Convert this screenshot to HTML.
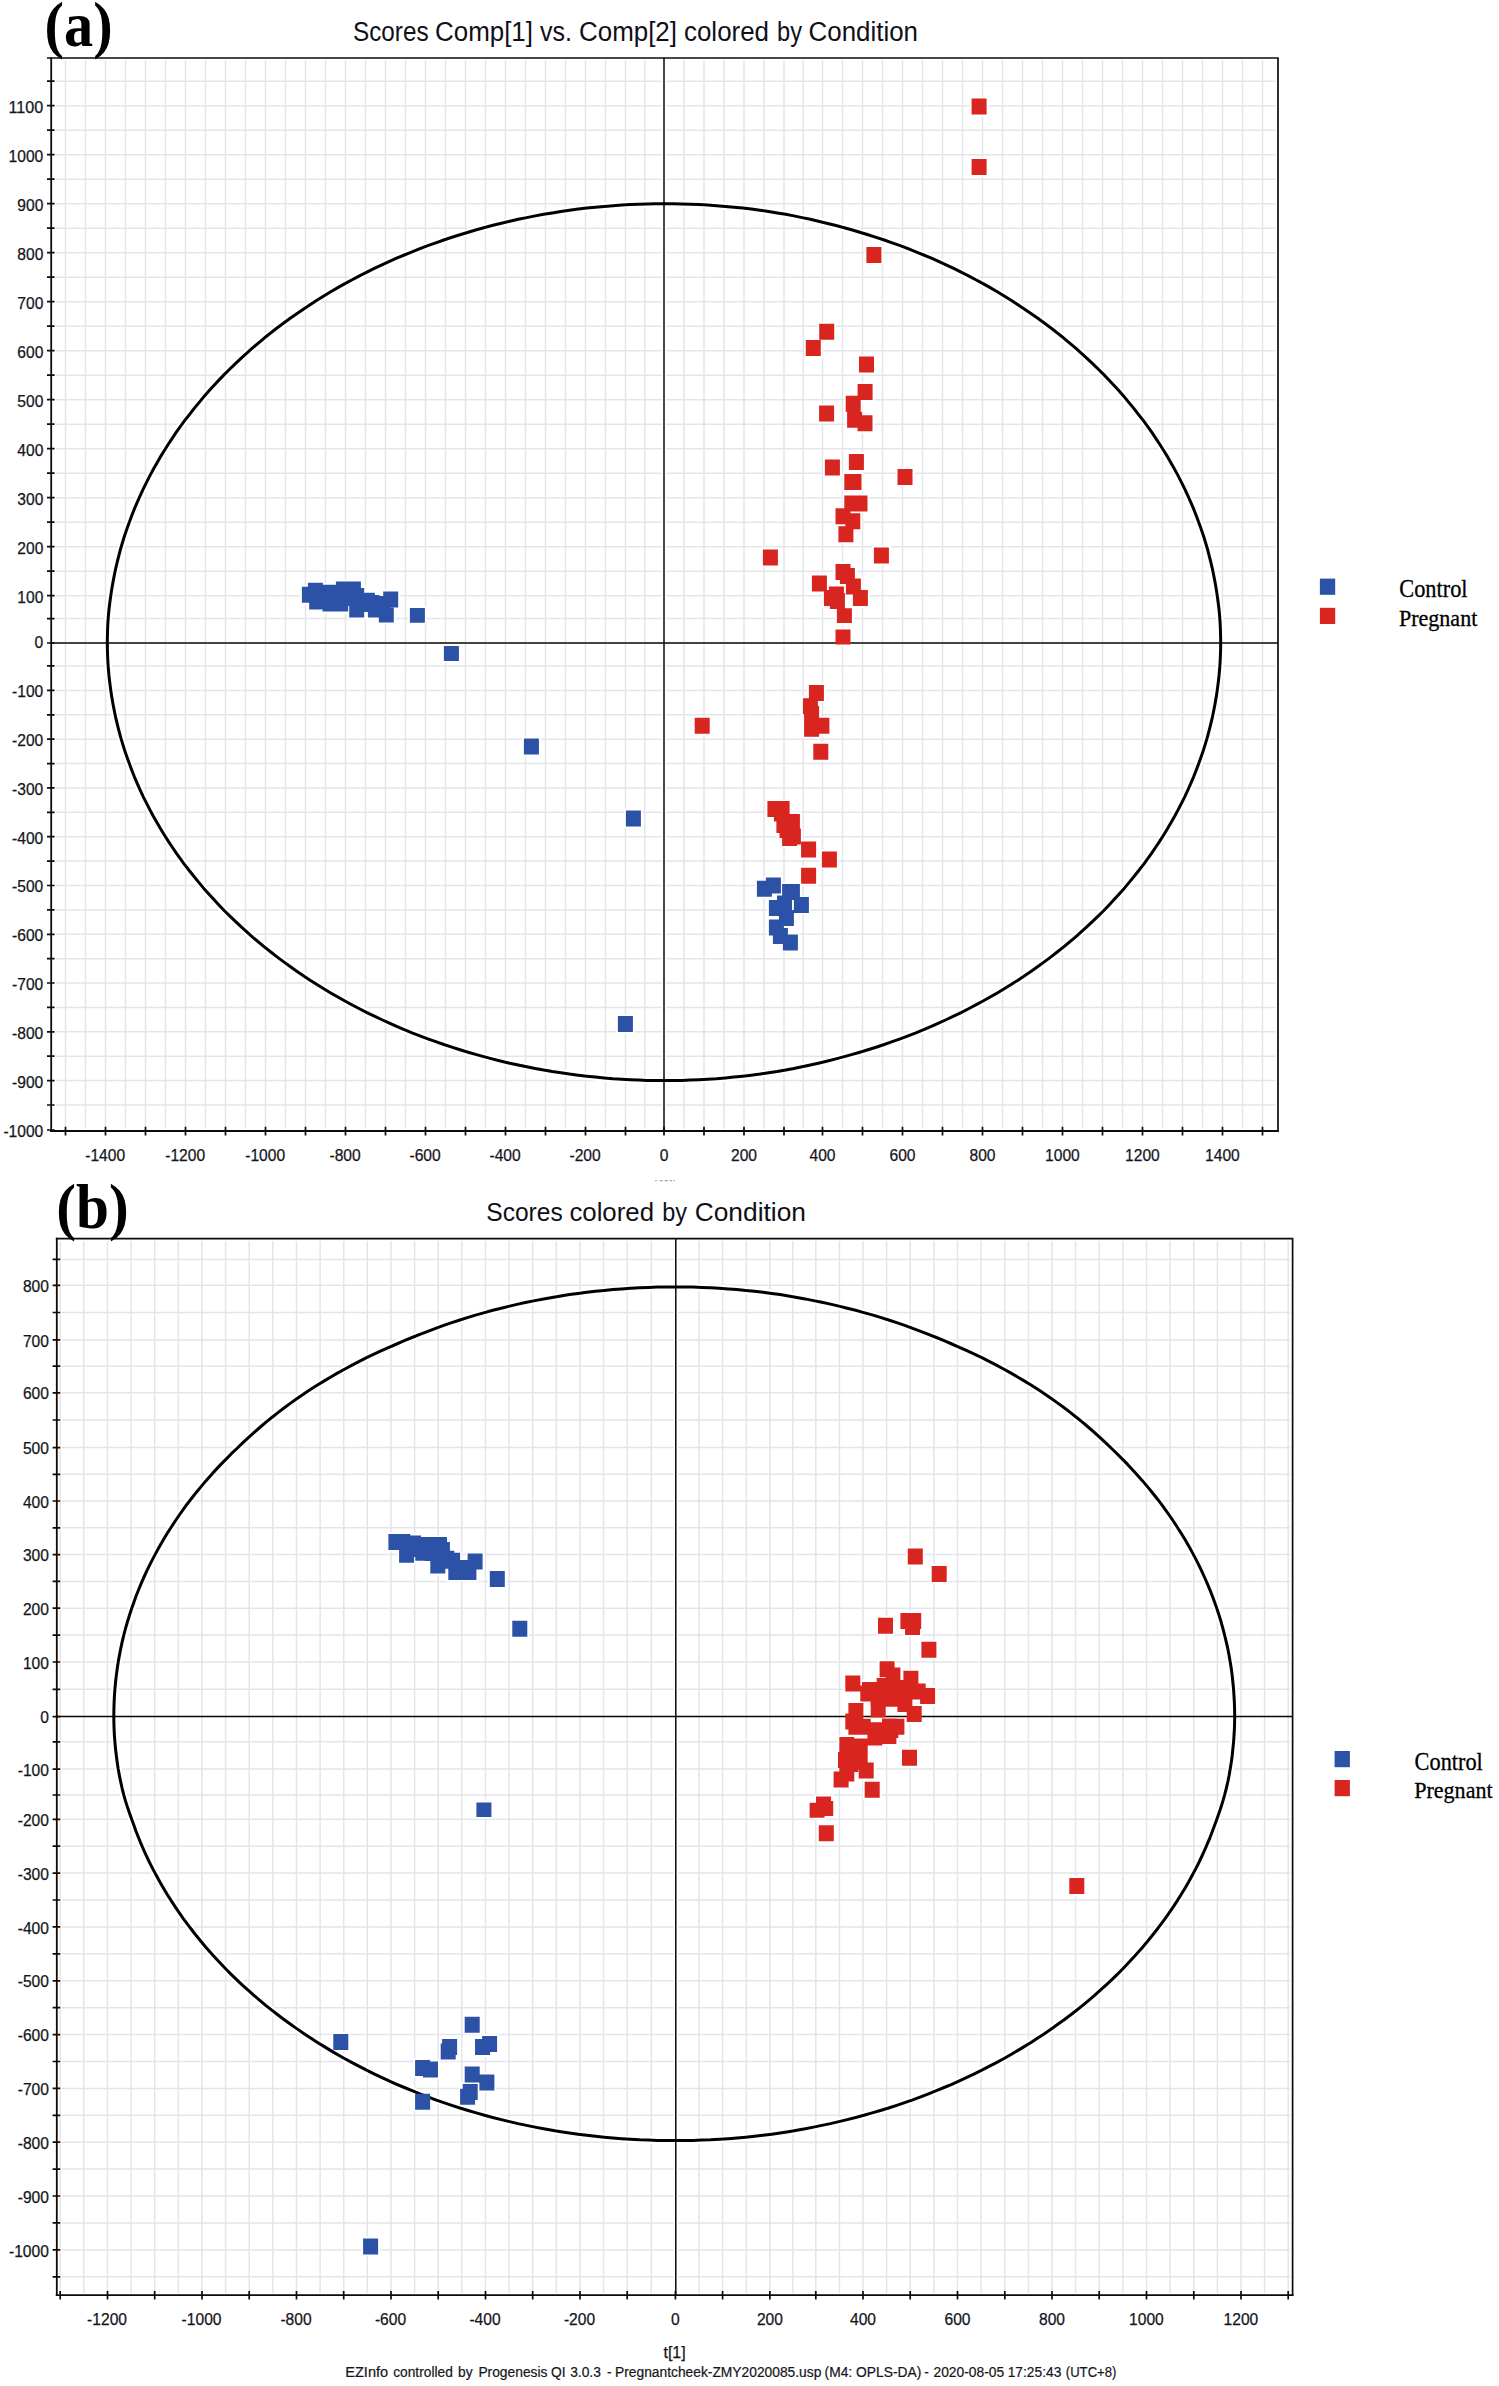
<!DOCTYPE html>
<html><head><meta charset="utf-8"><title>Scores plots</title>
<style>
html,body{margin:0;padding:0;background:#fff}
svg{display:block}
text{font-family:"Liberation Sans",sans-serif;fill:#15151c}
.t{font-size:16px;stroke:#15151c;stroke-width:.25px}
.ti{font-size:26px;fill:#101018}
.pl{font-family:"Liberation Serif",serif;font-weight:bold;font-size:63px;fill:#000}
.lg{font-family:"Liberation Serif",serif;font-size:25px;fill:#000;stroke:#000;stroke-width:.3px}
.ft{font-size:13.8px;stroke:#15151c;stroke-width:.2px}
</style></head><body>
<svg width="1499" height="2386" viewBox="0 0 1499 2386">
<rect width="1499" height="2386" fill="#fff"/>
<path d="M655.2 1180.6h1.6M659.5 1180.6h3.4M664.6 1180.6h3.2M669.6 1180.6h2.4M673.6 1180.6h1.4" stroke="#a9a9ad" stroke-width="1.2" fill="none"/>
<path d="M65.5 60.3V1128.7M85.5 60.3V1128.7M105.5 60.3V1128.7M125.5 60.3V1128.7M145.5 60.3V1128.7M165.5 60.3V1128.7M185.5 60.3V1128.7M205.5 60.3V1128.7M225.5 60.3V1128.7M245.5 60.3V1128.7M265.5 60.3V1128.7M285.5 60.3V1128.7M305.5 60.3V1128.7M325.5 60.3V1128.7M345.5 60.3V1128.7M365.5 60.3V1128.7M385.5 60.3V1128.7M405.5 60.3V1128.7M425.5 60.3V1128.7M445.5 60.3V1128.7M465.5 60.3V1128.7M485.5 60.3V1128.7M505.5 60.3V1128.7M525.5 60.3V1128.7M545.5 60.3V1128.7M565.5 60.3V1128.7M585.5 60.3V1128.7M605.5 60.3V1128.7M625.5 60.3V1128.7M644.8 60.3V1128.7M664.0 60.3V1128.7M684.0 60.3V1128.7M704.0 60.3V1128.7M724.0 60.3V1128.7M744.0 60.3V1128.7M764.0 60.3V1128.7M784.0 60.3V1128.7M803.2 60.3V1128.7M822.5 60.3V1128.7M842.5 60.3V1128.7M862.5 60.3V1128.7M882.5 60.3V1128.7M902.5 60.3V1128.7M922.5 60.3V1128.7M942.5 60.3V1128.7M962.5 60.3V1128.7M982.5 60.3V1128.7M1002.5 60.3V1128.7M1022.5 60.3V1128.7M1042.5 60.3V1128.7M1062.5 60.3V1128.7M1082.5 60.3V1128.7M1102.5 60.3V1128.7M1122.5 60.3V1128.7M1142.5 60.3V1128.7M1162.5 60.3V1128.7M1182.5 60.3V1128.7M1202.5 60.3V1128.7M1222.5 60.3V1128.7M1242.5 60.3V1128.7M1262.5 60.3V1128.7M56.1 1105.0H1275.7M56.1 1080.6H1275.7M56.1 1056.2H1275.7M56.1 1031.8H1275.7M56.1 1007.4H1275.7M56.1 983.0H1275.7M56.1 958.7H1275.7M56.1 934.3H1275.7M56.1 909.9H1275.7M56.1 885.5H1275.7M56.1 861.1H1275.7M56.1 836.7H1275.7M56.1 812.3H1275.7M56.1 787.9H1275.7M56.1 763.6H1275.7M56.1 739.2H1275.7M56.1 714.8H1275.7M56.1 690.4H1275.7M56.1 665.9H1275.7M56.1 643.0H1275.7M56.1 618.6H1275.7M56.1 595.7H1275.7M56.1 571.2H1275.7M56.1 546.7H1275.7M56.1 522.2H1275.7M56.1 497.7H1275.7M56.1 473.2H1275.7M56.1 448.7H1275.7M56.1 424.2H1275.7M56.1 399.7H1275.7M56.1 375.2H1275.7M56.1 350.7H1275.7M56.1 326.2H1275.7M56.1 301.7H1275.7M56.1 277.2H1275.7M56.1 252.7H1275.7M56.1 228.2H1275.7M56.1 203.7H1275.7M56.1 179.2H1275.7M56.1 154.7H1275.7M56.1 130.2H1275.7M56.1 105.7H1275.7M56.1 81.2H1275.7" stroke="#e3e5e9" stroke-width="1.5" fill="none"/>
<path d="M664.0 59.0V1130.0" stroke="#fff" stroke-width="4.6"/>
<path d="M1220.7 643.0L1220.6 636.1L1220.4 629.2L1220.1 622.3L1219.6 615.6L1219.0 609.2L1218.2 602.7L1217.3 596.3L1216.3 589.4L1215.1 582.6L1213.8 575.7L1212.4 568.9L1210.8 562.1L1209.1 555.3L1207.3 548.5L1205.3 541.8L1203.2 535.0L1200.9 528.3L1198.5 521.7L1196.0 515.0L1193.4 508.4L1190.6 501.9L1187.7 495.3L1184.7 488.8L1181.5 482.4L1178.2 475.9L1174.8 469.6L1171.2 463.2L1167.6 456.9L1163.8 450.7L1159.9 444.5L1155.8 438.3L1151.7 432.2L1147.4 426.2L1143.0 420.2L1138.4 414.3L1133.8 408.4L1129.0 402.6L1124.2 396.8L1119.2 391.1L1114.1 385.5L1108.9 379.9L1103.6 374.4L1098.1 369.0L1092.6 363.6L1087.0 358.3L1081.2 353.1L1075.4 347.9L1069.4 342.8L1063.4 337.8L1057.2 332.9L1051.0 328.0L1044.6 323.2L1038.2 318.5L1031.6 313.9L1025.0 309.4L1018.3 304.9L1011.5 300.5L1004.6 296.2L997.7 292.0L990.6 287.9L983.5 283.9L976.3 280.0L969.0 276.1L961.6 272.4L954.2 268.7L946.6 265.1L939.1 261.6L931.4 258.2L923.7 255.0L915.9 251.8L908.1 248.7L900.2 245.7L892.2 242.8L884.2 240.0L876.1 237.3L868.0 234.7L859.8 232.2L851.6 229.8L843.3 227.5L835.0 225.3L826.6 223.2L818.4 221.2L810.3 219.3L802.1 217.6L793.9 215.9L785.7 214.3L777.2 212.9L768.6 211.5L760.0 210.3L751.3 209.1L742.7 208.1L734.0 207.2L725.3 206.4L716.5 205.7L707.8 205.1L699.0 204.6L690.3 204.2L681.5 203.9L672.8 203.8L664.0 203.7L655.6 203.8L647.1 203.9L638.7 204.2L630.3 204.6L621.7 205.1L613.0 205.7L604.2 206.4L595.5 207.2L586.8 208.1L578.2 209.1L569.5 210.3L560.9 211.5L552.3 212.9L543.7 214.3L535.2 215.9L526.7 217.6L518.2 219.3L509.8 221.2L501.4 223.2L493.0 225.3L484.7 227.5L476.4 229.8L468.2 232.2L460.0 234.7L451.9 237.3L443.8 240.0L435.8 242.8L427.8 245.7L419.9 248.7L412.1 251.8L404.3 255.0L396.6 258.2L388.9 261.6L381.4 265.1L373.8 268.7L366.4 272.4L359.0 276.1L351.7 280.0L344.5 283.9L337.4 287.9L330.3 292.0L323.4 296.2L316.5 300.5L309.7 304.9L303.0 309.4L296.4 313.9L289.8 318.5L283.4 323.2L277.0 328.0L270.8 332.9L264.6 337.8L258.6 342.8L252.6 347.9L246.8 353.1L241.0 358.3L235.4 363.6L229.9 369.0L224.4 374.4L219.1 379.9L213.9 385.5L208.8 391.1L203.8 396.8L199.0 402.6L194.2 408.4L189.6 414.3L185.0 420.2L180.6 426.2L176.3 432.2L172.2 438.3L168.1 444.5L164.2 450.7L160.4 456.9L156.8 463.2L153.2 469.6L149.8 475.9L146.5 482.4L143.3 488.8L140.3 495.3L137.4 501.9L134.6 508.4L132.0 515.0L129.5 521.7L127.1 528.3L124.8 535.0L122.7 541.8L120.7 548.5L118.9 555.3L117.2 562.1L115.6 568.9L114.2 575.7L112.9 582.6L111.7 589.4L110.7 596.3L109.8 602.7L109.0 609.2L108.4 615.6L107.9 622.3L107.6 629.2L107.4 636.1L107.3 643.0L107.4 649.5L107.6 655.9L107.9 662.4L108.4 669.1L109.0 676.0L109.8 682.9L110.7 689.8L111.7 696.6L112.9 703.5L114.2 710.3L115.6 717.1L117.2 723.9L118.9 730.6L120.7 737.4L122.7 744.1L124.8 750.8L127.1 757.5L129.5 764.1L132.0 770.7L134.6 777.3L137.4 783.8L140.3 790.3L143.3 796.8L146.5 803.2L149.8 809.6L153.2 816.0L156.8 822.3L160.4 828.5L164.2 834.7L168.1 840.9L172.2 847.0L176.3 853.1L180.6 859.1L185.0 865.1L189.6 871.0L194.2 876.8L199.0 882.6L203.8 888.4L208.8 894.0L213.9 899.6L219.1 905.2L224.4 910.7L229.9 916.1L235.4 921.4L241.0 926.7L246.8 931.9L252.6 937.1L258.6 942.1L264.6 947.1L270.8 952.0L277.0 956.9L283.4 961.6L289.8 966.3L296.4 970.9L303.0 975.4L309.7 979.9L316.5 984.2L323.4 988.5L330.3 992.7L337.4 996.8L344.5 1000.8L351.7 1004.7L359.0 1008.5L366.4 1012.3L373.8 1015.9L381.4 1019.5L388.9 1022.9L396.6 1026.3L404.3 1029.6L412.1 1032.8L419.9 1035.8L427.8 1038.8L435.8 1041.7L443.8 1044.5L451.9 1047.2L460.0 1049.8L468.2 1052.3L476.4 1054.6L484.7 1056.9L493.0 1059.1L501.4 1061.2L509.8 1063.2L518.2 1065.0L526.7 1066.8L535.2 1068.5L543.7 1070.0L552.3 1071.5L560.9 1072.8L569.5 1074.1L578.2 1075.2L586.8 1076.2L595.5 1077.1L604.2 1077.9L613.0 1078.7L621.7 1079.2L630.3 1079.7L638.7 1080.1L647.1 1080.4L655.6 1080.5L664.0 1080.6L672.8 1080.5L681.5 1080.4L690.3 1080.1L699.0 1079.7L707.8 1079.2L716.5 1078.7L725.3 1077.9L734.0 1077.1L742.7 1076.2L751.3 1075.2L760.0 1074.1L768.6 1072.8L777.2 1071.5L785.7 1070.0L793.9 1068.5L802.1 1066.8L810.3 1065.0L818.4 1063.2L826.6 1061.2L835.0 1059.1L843.3 1056.9L851.6 1054.6L859.8 1052.3L868.0 1049.8L876.1 1047.2L884.2 1044.5L892.2 1041.7L900.2 1038.8L908.1 1035.8L915.9 1032.8L923.7 1029.6L931.4 1026.3L939.1 1022.9L946.6 1019.5L954.2 1015.9L961.6 1012.3L969.0 1008.5L976.3 1004.7L983.5 1000.8L990.6 996.8L997.7 992.7L1004.6 988.5L1011.5 984.2L1018.3 979.9L1025.0 975.4L1031.6 970.9L1038.2 966.3L1044.6 961.6L1051.0 956.9L1057.2 952.0L1063.4 947.1L1069.4 942.1L1075.4 937.1L1081.2 931.9L1087.0 926.7L1092.6 921.4L1098.1 916.1L1103.6 910.7L1108.9 905.2L1114.1 899.6L1119.2 894.0L1124.2 888.4L1129.0 882.6L1133.8 876.8L1138.4 871.0L1143.0 865.1L1147.4 859.1L1151.7 853.1L1155.8 847.0L1159.9 840.9L1163.8 834.7L1167.6 828.5L1171.2 822.3L1174.8 816.0L1178.2 809.6L1181.5 803.2L1184.7 796.8L1187.7 790.3L1190.6 783.8L1193.4 777.3L1196.0 770.7L1198.5 764.1L1200.9 757.5L1203.2 750.8L1205.3 744.1L1207.3 737.4L1209.1 730.6L1210.8 723.9L1212.4 717.1L1213.8 710.3L1215.1 703.5L1216.3 696.6L1217.3 689.8L1218.2 682.9L1219.0 676.0L1219.6 669.1L1220.1 662.4L1220.4 655.9L1220.6 649.5L1220.7 643.0Z" fill="none" stroke="#fff" stroke-width="7.2"/>
<path d="M300.1 584.9h18.6v19.6h-18.6zM306.1 580.9h18.6v19.6h-18.6zM307.4 591.6h18.6v19.6h-18.6zM320.7 593.6h18.6v19.6h-18.6zM331.4 593.6h18.6v19.6h-18.6zM334.1 579.6h18.6v19.6h-18.6zM344.1 579.6h18.6v19.6h-18.6zM347.4 586.2h18.6v19.6h-18.6zM347.4 600.8h18.6v18.400000000000002h-18.6zM358.1 590.9h18.6v19.6h-18.6zM366.1 600.8h18.6v18.400000000000002h-18.6zM377.0 605.9h18.6v18.400000000000002h-18.6zM381.4 589.6h18.6v19.6h-18.6zM370.1 594.2h18.6v19.6h-18.6zM318.1 582.9h18.6v19.6h-18.6zM324.7 582.9h18.6v19.6h-18.6zM312.7 586.2h18.6v19.6h-18.6zM336.7 588.2h18.6v19.6h-18.6zM354.7 594.2h18.6v19.6h-18.6zM362.7 593.2h18.6v19.6h-18.6zM373.7 596.8h18.6v18.400000000000002h-18.6zM408.1 606.2h18.6v18.400000000000002h-18.6zM442.1 644.3h18.6v18.400000000000002h-18.6zM522.1 736.6h18.6v19.6h-18.6zM624.1 808.6h18.6v19.6h-18.6zM616.1 1014.2h18.6v19.6h-18.6zM764.1 875.7h18.6v19.6h-18.6zM755.1 879.0h18.6v19.6h-18.6zM780.3 882.2h18.6v19.6h-18.6zM783.1 882.2h18.6v19.6h-18.6zM792.1 895.2h18.6v19.6h-18.6zM775.2 893.7h18.6v19.6h-18.6zM767.1 898.2h18.6v19.6h-18.6zM777.1 908.2h18.6v19.6h-18.6zM767.1 917.7h18.6v19.6h-18.6zM771.1 926.2h18.6v19.6h-18.6zM781.1 932.7h18.6v19.6h-18.6zM969.8 96.7h18.6v19.6h-18.6zM969.8 157.2h18.6v19.6h-18.6zM864.6 245.2h18.6v19.6h-18.6zM817.4 322.0h18.6v19.6h-18.6zM804.0 338.2h18.6v19.6h-18.6zM857.2 354.7h18.6v19.6h-18.6zM855.8 382.3h18.6v19.6h-18.6zM843.9 393.9h18.6v19.6h-18.6zM817.3 403.7h18.6v19.6h-18.6zM845.3 409.9h18.6v19.6h-18.6zM855.7 413.5h18.6v19.6h-18.6zM847.1 452.2h18.6v19.6h-18.6zM823.1 457.6h18.6v19.6h-18.6zM895.7 467.2h18.6v19.6h-18.6zM842.5 472.2h18.6v19.6h-18.6zM844.7 472.2h18.6v19.6h-18.6zM842.5 493.6h18.6v19.6h-18.6zM850.7 493.6h18.6v19.6h-18.6zM833.7 506.4h18.6v19.6h-18.6zM843.5 511.4h18.6v19.6h-18.6zM836.6 524.4h18.6v19.6h-18.6zM761.1 547.6h18.6v19.6h-18.6zM872.1 545.8h18.6v19.6h-18.6zM833.7 562.2h18.6v19.6h-18.6zM838.1 566.2h18.6v19.6h-18.6zM810.1 573.6h18.6v19.6h-18.6zM844.1 576.8h18.6v19.6h-18.6zM827.1 584.8h18.6v19.6h-18.6zM822.1 588.2h18.6v19.6h-18.6zM851.1 588.2h18.6v19.6h-18.6zM828.1 591.2h18.6v19.6h-18.6zM835.1 606.4h18.6v18.400000000000002h-18.6zM833.7 627.8h18.6v18.400000000000002h-18.6zM807.1 683.2h18.6v19.6h-18.6zM801.1 696.4h18.6v19.6h-18.6zM802.3 704.2h18.6v19.6h-18.6zM802.3 719.0h18.6v19.6h-18.6zM812.6 716.0h18.6v19.6h-18.6zM811.5 741.9h18.6v19.6h-18.6zM692.9 715.9h18.6v19.6h-18.6zM765.6 799.2h18.6v19.6h-18.6zM772.8 799.2h18.6v19.6h-18.6zM772.1 803.7h18.6v19.6h-18.6zM774.6 815.2h18.6v19.6h-18.6zM783.1 812.2h18.6v19.6h-18.6zM780.3 828.2h18.6v19.6h-18.6zM784.1 826.7h18.6v19.6h-18.6zM777.7 820.2h18.6v19.6h-18.6zM799.3 839.7h18.6v19.6h-18.6zM820.1 849.6h18.6v19.6h-18.6zM799.3 865.9h18.6v19.6h-18.6z" fill="#fff"/>
<path d="M51.2 643.0H1278.0M664.0 58.0V1131.0" stroke="#100a07" stroke-width="1.5" fill="none"/>
<path d="M1220.7 643.0L1220.6 636.1L1220.4 629.2L1220.1 622.3L1219.6 615.6L1219.0 609.2L1218.2 602.7L1217.3 596.3L1216.3 589.4L1215.1 582.6L1213.8 575.7L1212.4 568.9L1210.8 562.1L1209.1 555.3L1207.3 548.5L1205.3 541.8L1203.2 535.0L1200.9 528.3L1198.5 521.7L1196.0 515.0L1193.4 508.4L1190.6 501.9L1187.7 495.3L1184.7 488.8L1181.5 482.4L1178.2 475.9L1174.8 469.6L1171.2 463.2L1167.6 456.9L1163.8 450.7L1159.9 444.5L1155.8 438.3L1151.7 432.2L1147.4 426.2L1143.0 420.2L1138.4 414.3L1133.8 408.4L1129.0 402.6L1124.2 396.8L1119.2 391.1L1114.1 385.5L1108.9 379.9L1103.6 374.4L1098.1 369.0L1092.6 363.6L1087.0 358.3L1081.2 353.1L1075.4 347.9L1069.4 342.8L1063.4 337.8L1057.2 332.9L1051.0 328.0L1044.6 323.2L1038.2 318.5L1031.6 313.9L1025.0 309.4L1018.3 304.9L1011.5 300.5L1004.6 296.2L997.7 292.0L990.6 287.9L983.5 283.9L976.3 280.0L969.0 276.1L961.6 272.4L954.2 268.7L946.6 265.1L939.1 261.6L931.4 258.2L923.7 255.0L915.9 251.8L908.1 248.7L900.2 245.7L892.2 242.8L884.2 240.0L876.1 237.3L868.0 234.7L859.8 232.2L851.6 229.8L843.3 227.5L835.0 225.3L826.6 223.2L818.4 221.2L810.3 219.3L802.1 217.6L793.9 215.9L785.7 214.3L777.2 212.9L768.6 211.5L760.0 210.3L751.3 209.1L742.7 208.1L734.0 207.2L725.3 206.4L716.5 205.7L707.8 205.1L699.0 204.6L690.3 204.2L681.5 203.9L672.8 203.8L664.0 203.7L655.6 203.8L647.1 203.9L638.7 204.2L630.3 204.6L621.7 205.1L613.0 205.7L604.2 206.4L595.5 207.2L586.8 208.1L578.2 209.1L569.5 210.3L560.9 211.5L552.3 212.9L543.7 214.3L535.2 215.9L526.7 217.6L518.2 219.3L509.8 221.2L501.4 223.2L493.0 225.3L484.7 227.5L476.4 229.8L468.2 232.2L460.0 234.7L451.9 237.3L443.8 240.0L435.8 242.8L427.8 245.7L419.9 248.7L412.1 251.8L404.3 255.0L396.6 258.2L388.9 261.6L381.4 265.1L373.8 268.7L366.4 272.4L359.0 276.1L351.7 280.0L344.5 283.9L337.4 287.9L330.3 292.0L323.4 296.2L316.5 300.5L309.7 304.9L303.0 309.4L296.4 313.9L289.8 318.5L283.4 323.2L277.0 328.0L270.8 332.9L264.6 337.8L258.6 342.8L252.6 347.9L246.8 353.1L241.0 358.3L235.4 363.6L229.9 369.0L224.4 374.4L219.1 379.9L213.9 385.5L208.8 391.1L203.8 396.8L199.0 402.6L194.2 408.4L189.6 414.3L185.0 420.2L180.6 426.2L176.3 432.2L172.2 438.3L168.1 444.5L164.2 450.7L160.4 456.9L156.8 463.2L153.2 469.6L149.8 475.9L146.5 482.4L143.3 488.8L140.3 495.3L137.4 501.9L134.6 508.4L132.0 515.0L129.5 521.7L127.1 528.3L124.8 535.0L122.7 541.8L120.7 548.5L118.9 555.3L117.2 562.1L115.6 568.9L114.2 575.7L112.9 582.6L111.7 589.4L110.7 596.3L109.8 602.7L109.0 609.2L108.4 615.6L107.9 622.3L107.6 629.2L107.4 636.1L107.3 643.0L107.4 649.5L107.6 655.9L107.9 662.4L108.4 669.1L109.0 676.0L109.8 682.9L110.7 689.8L111.7 696.6L112.9 703.5L114.2 710.3L115.6 717.1L117.2 723.9L118.9 730.6L120.7 737.4L122.7 744.1L124.8 750.8L127.1 757.5L129.5 764.1L132.0 770.7L134.6 777.3L137.4 783.8L140.3 790.3L143.3 796.8L146.5 803.2L149.8 809.6L153.2 816.0L156.8 822.3L160.4 828.5L164.2 834.7L168.1 840.9L172.2 847.0L176.3 853.1L180.6 859.1L185.0 865.1L189.6 871.0L194.2 876.8L199.0 882.6L203.8 888.4L208.8 894.0L213.9 899.6L219.1 905.2L224.4 910.7L229.9 916.1L235.4 921.4L241.0 926.7L246.8 931.9L252.6 937.1L258.6 942.1L264.6 947.1L270.8 952.0L277.0 956.9L283.4 961.6L289.8 966.3L296.4 970.9L303.0 975.4L309.7 979.9L316.5 984.2L323.4 988.5L330.3 992.7L337.4 996.8L344.5 1000.8L351.7 1004.7L359.0 1008.5L366.4 1012.3L373.8 1015.9L381.4 1019.5L388.9 1022.9L396.6 1026.3L404.3 1029.6L412.1 1032.8L419.9 1035.8L427.8 1038.8L435.8 1041.7L443.8 1044.5L451.9 1047.2L460.0 1049.8L468.2 1052.3L476.4 1054.6L484.7 1056.9L493.0 1059.1L501.4 1061.2L509.8 1063.2L518.2 1065.0L526.7 1066.8L535.2 1068.5L543.7 1070.0L552.3 1071.5L560.9 1072.8L569.5 1074.1L578.2 1075.2L586.8 1076.2L595.5 1077.1L604.2 1077.9L613.0 1078.7L621.7 1079.2L630.3 1079.7L638.7 1080.1L647.1 1080.4L655.6 1080.5L664.0 1080.6L672.8 1080.5L681.5 1080.4L690.3 1080.1L699.0 1079.7L707.8 1079.2L716.5 1078.7L725.3 1077.9L734.0 1077.1L742.7 1076.2L751.3 1075.2L760.0 1074.1L768.6 1072.8L777.2 1071.5L785.7 1070.0L793.9 1068.5L802.1 1066.8L810.3 1065.0L818.4 1063.2L826.6 1061.2L835.0 1059.1L843.3 1056.9L851.6 1054.6L859.8 1052.3L868.0 1049.8L876.1 1047.2L884.2 1044.5L892.2 1041.7L900.2 1038.8L908.1 1035.8L915.9 1032.8L923.7 1029.6L931.4 1026.3L939.1 1022.9L946.6 1019.5L954.2 1015.9L961.6 1012.3L969.0 1008.5L976.3 1004.7L983.5 1000.8L990.6 996.8L997.7 992.7L1004.6 988.5L1011.5 984.2L1018.3 979.9L1025.0 975.4L1031.6 970.9L1038.2 966.3L1044.6 961.6L1051.0 956.9L1057.2 952.0L1063.4 947.1L1069.4 942.1L1075.4 937.1L1081.2 931.9L1087.0 926.7L1092.6 921.4L1098.1 916.1L1103.6 910.7L1108.9 905.2L1114.1 899.6L1119.2 894.0L1124.2 888.4L1129.0 882.6L1133.8 876.8L1138.4 871.0L1143.0 865.1L1147.4 859.1L1151.7 853.1L1155.8 847.0L1159.9 840.9L1163.8 834.7L1167.6 828.5L1171.2 822.3L1174.8 816.0L1178.2 809.6L1181.5 803.2L1184.7 796.8L1187.7 790.3L1190.6 783.8L1193.4 777.3L1196.0 770.7L1198.5 764.1L1200.9 757.5L1203.2 750.8L1205.3 744.1L1207.3 737.4L1209.1 730.6L1210.8 723.9L1212.4 717.1L1213.8 710.3L1215.1 703.5L1216.3 696.6L1217.3 689.8L1218.2 682.9L1219.0 676.0L1219.6 669.1L1220.1 662.4L1220.4 655.9L1220.6 649.5L1220.7 643.0Z" fill="none" stroke="#000" stroke-width="3" stroke-linejoin="round"/>
<path d="M301.9 586.7h15v16h-15zM307.9 582.7h15v16h-15zM309.2 593.4h15v16h-15zM322.5 595.4h15v16h-15zM333.2 595.4h15v16h-15zM335.9 581.4h15v16h-15zM345.9 581.4h15v16h-15zM349.2 588.0h15v16h-15zM349.2 602.6h15v14.8h-15zM359.9 592.7h15v16h-15zM367.9 602.6h15v14.8h-15zM378.8 607.7h15v14.8h-15zM383.2 591.4h15v16h-15zM371.9 596.0h15v16h-15zM319.9 584.7h15v16h-15zM326.5 584.7h15v16h-15zM314.5 588.0h15v16h-15zM338.5 590.0h15v16h-15zM356.5 596.0h15v16h-15zM364.5 595.0h15v16h-15zM375.5 598.6h15v14.8h-15zM409.9 608.0h15v14.8h-15zM443.9 646.1h15v14.8h-15zM523.9 738.4h15v16h-15zM625.9 810.4h15v16h-15zM617.9 1016.0h15v16h-15zM765.9 877.5h15v16h-15zM756.9 880.8h15v16h-15zM782.1 884.0h15v16h-15zM784.9 884.0h15v16h-15zM793.9 897.0h15v16h-15zM777.0 895.5h15v16h-15zM768.9 900.0h15v16h-15zM778.9 910.0h15v16h-15zM768.9 919.5h15v16h-15zM772.9 928.0h15v16h-15zM782.9 934.5h15v16h-15z" fill="#2b52a6"/>
<path d="M971.6 98.5h15v16h-15zM971.6 159.0h15v16h-15zM866.4 247.0h15v16h-15zM819.2 323.8h15v16h-15zM805.8 340.0h15v16h-15zM859.0 356.5h15v16h-15zM857.6 384.1h15v16h-15zM845.7 395.7h15v16h-15zM819.1 405.5h15v16h-15zM847.1 411.7h15v16h-15zM857.5 415.3h15v16h-15zM848.9 454.0h15v16h-15zM824.9 459.4h15v16h-15zM897.5 469.0h15v16h-15zM844.3 474.0h15v16h-15zM846.5 474.0h15v16h-15zM844.3 495.4h15v16h-15zM852.5 495.4h15v16h-15zM835.5 508.2h15v16h-15zM845.3 513.2h15v16h-15zM838.4 526.2h15v16h-15zM762.9 549.4h15v16h-15zM873.9 547.6h15v16h-15zM835.5 564.0h15v16h-15zM839.9 568.0h15v16h-15zM811.9 575.4h15v16h-15zM845.9 578.6h15v16h-15zM828.9 586.6h15v16h-15zM823.9 590.0h15v16h-15zM852.9 590.0h15v16h-15zM829.9 593.0h15v16h-15zM836.9 608.2h15v14.8h-15zM835.5 629.6h15v14.8h-15zM808.9 685.0h15v16h-15zM802.9 698.2h15v16h-15zM804.1 706.0h15v16h-15zM804.1 720.8h15v16h-15zM814.4 717.8h15v16h-15zM813.3 743.7h15v16h-15zM694.7 717.7h15v16h-15zM767.4 801.0h15v16h-15zM774.6 801.0h15v16h-15zM773.9 805.5h15v16h-15zM776.4 817.0h15v16h-15zM784.9 814.0h15v16h-15zM782.1 830.0h15v16h-15zM785.9 828.5h15v16h-15zM779.5 822.0h15v16h-15zM801.1 841.5h15v16h-15zM821.9 851.4h15v16h-15zM801.1 867.7h15v16h-15z" fill="#d92520"/>
<path d="M47.0 58.0H1278.0V1131.8" stroke="#100a07" stroke-width="1.7" fill="none"/>
<path d="M51.2 57.2V1131.9" stroke="#100a07" stroke-width="1.8" fill="none"/>
<path d="M50.2 1131.0H1278.8" stroke="#100a07" stroke-width="1.8" fill="none"/>
<path d="M47.0 1130.0h7.6M47.0 1105.0h7.6M47.0 1080.6h7.6M47.0 1056.2h7.6M47.0 1031.8h7.6M47.0 1007.4h7.6M47.0 983.0h7.6M47.0 958.7h7.6M47.0 934.3h7.6M47.0 909.9h7.6M47.0 885.5h7.6M47.0 861.1h7.6M47.0 836.7h7.6M47.0 812.3h7.6M47.0 787.9h7.6M47.0 763.6h7.6M47.0 739.2h7.6M47.0 714.8h7.6M47.0 690.4h7.6M47.0 665.9h7.6M47.0 643.0h7.6M47.0 618.6h7.6M47.0 595.7h7.6M47.0 571.2h7.6M47.0 546.7h7.6M47.0 522.2h7.6M47.0 497.7h7.6M47.0 473.2h7.6M47.0 448.7h7.6M47.0 424.2h7.6M47.0 399.7h7.6M47.0 375.2h7.6M47.0 350.7h7.6M47.0 326.2h7.6M47.0 301.7h7.6M47.0 277.2h7.6M47.0 252.7h7.6M47.0 228.2h7.6M47.0 203.7h7.6M47.0 179.2h7.6M47.0 154.7h7.6M47.0 130.2h7.6M47.0 105.7h7.6M47.0 81.2h7.6M65.5 1126.8v8.6M105.5 1126.8v8.6M145.5 1126.8v8.6M185.5 1126.8v8.6M225.5 1126.8v8.6M265.5 1126.8v8.6M305.5 1126.8v8.6M345.5 1126.8v8.6M385.5 1126.8v8.6M425.5 1126.8v8.6M465.5 1126.8v8.6M505.5 1126.8v8.6M545.5 1126.8v8.6M585.5 1126.8v8.6M625.5 1126.8v8.6M664.0 1126.8v8.6M704.0 1126.8v8.6M744.0 1126.8v8.6M784.0 1126.8v8.6M822.5 1126.8v8.6M862.5 1126.8v8.6M902.5 1126.8v8.6M942.5 1126.8v8.6M982.5 1126.8v8.6M1022.5 1126.8v8.6M1062.5 1126.8v8.6M1102.5 1126.8v8.6M1142.5 1126.8v8.6M1182.5 1126.8v8.6M1222.5 1126.8v8.6M1262.5 1126.8v8.6" stroke="#100a07" stroke-width="1.7" fill="none"/>
<text x="3.4" y="1136.9" class="t" textLength="39.9" lengthAdjust="spacingAndGlyphs">-1000</text>
<text x="12.1" y="1087.5" class="t" textLength="31.2" lengthAdjust="spacingAndGlyphs">-900</text>
<text x="12.1" y="1038.7" class="t" textLength="31.2" lengthAdjust="spacingAndGlyphs">-800</text>
<text x="12.1" y="989.9" class="t" textLength="31.2" lengthAdjust="spacingAndGlyphs">-700</text>
<text x="12.1" y="941.2" class="t" textLength="31.2" lengthAdjust="spacingAndGlyphs">-600</text>
<text x="12.1" y="892.4" class="t" textLength="31.2" lengthAdjust="spacingAndGlyphs">-500</text>
<text x="12.1" y="843.6" class="t" textLength="31.2" lengthAdjust="spacingAndGlyphs">-400</text>
<text x="12.1" y="794.8" class="t" textLength="31.2" lengthAdjust="spacingAndGlyphs">-300</text>
<text x="12.1" y="746.1" class="t" textLength="31.2" lengthAdjust="spacingAndGlyphs">-200</text>
<text x="12.1" y="697.3" class="t" textLength="31.2" lengthAdjust="spacingAndGlyphs">-100</text>
<text x="34.6" y="648.3" class="t" textLength="8.7" lengthAdjust="spacingAndGlyphs">0</text>
<text x="17.3" y="602.6" class="t" textLength="26.0" lengthAdjust="spacingAndGlyphs">100</text>
<text x="17.3" y="553.6" class="t" textLength="26.0" lengthAdjust="spacingAndGlyphs">200</text>
<text x="17.3" y="504.6" class="t" textLength="26.0" lengthAdjust="spacingAndGlyphs">300</text>
<text x="17.3" y="455.6" class="t" textLength="26.0" lengthAdjust="spacingAndGlyphs">400</text>
<text x="17.3" y="406.6" class="t" textLength="26.0" lengthAdjust="spacingAndGlyphs">500</text>
<text x="17.3" y="357.6" class="t" textLength="26.0" lengthAdjust="spacingAndGlyphs">600</text>
<text x="17.3" y="308.6" class="t" textLength="26.0" lengthAdjust="spacingAndGlyphs">700</text>
<text x="17.3" y="259.6" class="t" textLength="26.0" lengthAdjust="spacingAndGlyphs">800</text>
<text x="17.3" y="210.6" class="t" textLength="26.0" lengthAdjust="spacingAndGlyphs">900</text>
<text x="8.6" y="161.6" class="t" textLength="34.7" lengthAdjust="spacingAndGlyphs">1000</text>
<text x="8.6" y="112.6" class="t" textLength="34.7" lengthAdjust="spacingAndGlyphs">1100</text>
<text x="85.2" y="1161.0" class="t" textLength="39.9" lengthAdjust="spacingAndGlyphs">-1400</text>
<text x="165.2" y="1161.0" class="t" textLength="39.9" lengthAdjust="spacingAndGlyphs">-1200</text>
<text x="245.2" y="1161.0" class="t" textLength="39.9" lengthAdjust="spacingAndGlyphs">-1000</text>
<text x="329.5" y="1161.0" class="t" textLength="31.2" lengthAdjust="spacingAndGlyphs">-800</text>
<text x="409.5" y="1161.0" class="t" textLength="31.2" lengthAdjust="spacingAndGlyphs">-600</text>
<text x="489.5" y="1161.0" class="t" textLength="31.2" lengthAdjust="spacingAndGlyphs">-400</text>
<text x="569.5" y="1161.0" class="t" textLength="31.2" lengthAdjust="spacingAndGlyphs">-200</text>
<text x="659.7" y="1161.0" class="t" textLength="8.7" lengthAdjust="spacingAndGlyphs">0</text>
<text x="731.0" y="1161.0" class="t" textLength="26.0" lengthAdjust="spacingAndGlyphs">200</text>
<text x="809.5" y="1161.0" class="t" textLength="26.0" lengthAdjust="spacingAndGlyphs">400</text>
<text x="889.5" y="1161.0" class="t" textLength="26.0" lengthAdjust="spacingAndGlyphs">600</text>
<text x="969.5" y="1161.0" class="t" textLength="26.0" lengthAdjust="spacingAndGlyphs">800</text>
<text x="1045.1" y="1161.0" class="t" textLength="34.7" lengthAdjust="spacingAndGlyphs">1000</text>
<text x="1125.1" y="1161.0" class="t" textLength="34.7" lengthAdjust="spacingAndGlyphs">1200</text>
<text x="1205.1" y="1161.0" class="t" textLength="34.7" lengthAdjust="spacingAndGlyphs">1400</text>
<path d="M60.2 1240.9V2292.9M83.8 1240.9V2292.9M107.5 1240.9V2292.9M131.1 1240.9V2292.9M154.7 1240.9V2292.9M178.3 1240.9V2292.9M202.0 1240.9V2292.9M225.6 1240.9V2292.9M249.2 1240.9V2292.9M272.8 1240.9V2292.9M296.5 1240.9V2292.9M320.1 1240.9V2292.9M343.7 1240.9V2292.9M367.3 1240.9V2292.9M391.0 1240.9V2292.9M414.6 1240.9V2292.9M438.2 1240.9V2292.9M461.8 1240.9V2292.9M485.5 1240.9V2292.9M509.1 1240.9V2292.9M532.7 1240.9V2292.9M556.3 1240.9V2292.9M580.0 1240.9V2292.9M603.6 1240.9V2292.9M627.2 1240.9V2292.9M651.3 1240.9V2292.9M675.4 1240.9V2292.9M699.0 1240.9V2292.9M722.6 1240.9V2292.9M746.3 1240.9V2292.9M769.9 1240.9V2292.9M792.8 1240.9V2292.9M815.8 1240.9V2292.9M839.4 1240.9V2292.9M863.0 1240.9V2292.9M886.6 1240.9V2292.9M910.2 1240.9V2292.9M933.9 1240.9V2292.9M957.5 1240.9V2292.9M981.1 1240.9V2292.9M1004.8 1240.9V2292.9M1028.4 1240.9V2292.9M1052.0 1240.9V2292.9M1075.6 1240.9V2292.9M1099.2 1240.9V2292.9M1122.9 1240.9V2292.9M1146.5 1240.9V2292.9M1170.1 1240.9V2292.9M1193.8 1240.9V2292.9M1217.4 1240.9V2292.9M1241.0 1240.9V2292.9M1264.6 1240.9V2292.9M1288.2 1240.9V2292.9M61.7 2276.8H1290.3M61.7 2249.9H1290.3M61.7 2222.9H1290.3M61.7 2196.0H1290.3M61.7 2169.1H1290.3M61.7 2142.2H1290.3M61.7 2115.3H1290.3M61.7 2088.4H1290.3M61.7 2061.5H1290.3M61.7 2034.6H1290.3M61.7 2007.7H1290.3M61.7 1980.8H1290.3M61.7 1953.8H1290.3M61.7 1926.9H1290.3M61.7 1900.0H1290.3M61.7 1873.1H1290.3M61.7 1846.2H1290.3M61.7 1819.3H1290.3M61.7 1795.0H1290.3M61.7 1769.1H1290.3M61.7 1741.8H1290.3M61.7 1716.6H1290.3M61.7 1689.3H1290.3M61.7 1662.0H1290.3M61.7 1635.1H1290.3M61.7 1608.2H1290.3M61.7 1581.4H1290.3M61.7 1554.6H1290.3M61.7 1527.8H1290.3M61.7 1501.0H1290.3M61.7 1474.3H1290.3M61.7 1447.6H1290.3M61.7 1420.0H1290.3M61.7 1392.8H1290.3M61.7 1366.2H1290.3M61.7 1339.9H1290.3M61.7 1312.5H1290.3M61.7 1285.3H1290.3M61.7 1259.4H1290.3" stroke="#e3e5e9" stroke-width="1.5" fill="none"/>
<path d="M675.8 1239.6V2294.2" stroke="#fff" stroke-width="4.6"/>
<path d="M1234.7 1716.6L1234.6 1709.8L1234.4 1702.9L1234.0 1696.1L1233.6 1689.3L1232.9 1682.5L1232.2 1675.6L1231.3 1668.8L1230.2 1662.1L1229.1 1655.4L1227.8 1648.7L1226.3 1642.1L1224.7 1635.5L1223.0 1628.8L1221.2 1622.3L1219.2 1615.7L1217.1 1609.2L1214.8 1602.7L1212.4 1596.2L1209.9 1589.8L1207.2 1583.4L1204.4 1577.0L1201.5 1570.7L1198.5 1564.4L1195.3 1558.1L1192.0 1551.9L1188.6 1545.7L1185.0 1539.6L1181.3 1533.5L1177.5 1527.5L1173.6 1521.5L1169.5 1515.5L1165.3 1509.6L1161.0 1503.7L1156.6 1498.0L1152.0 1492.2L1147.4 1486.6L1142.6 1480.9L1137.7 1475.4L1132.7 1469.9L1127.6 1464.4L1122.4 1459.1L1117.0 1453.7L1111.6 1448.5L1106.0 1443.2L1100.3 1437.9L1094.6 1432.7L1088.7 1427.5L1082.7 1422.4L1076.6 1417.5L1070.5 1412.6L1064.2 1407.8L1057.8 1403.1L1051.3 1398.5L1044.8 1394.0L1038.1 1389.6L1031.4 1385.3L1024.6 1381.1L1017.6 1377.0L1010.6 1372.9L1003.6 1369.0L996.4 1365.1L989.1 1361.4L981.8 1357.7L974.4 1354.1L966.9 1350.7L959.4 1347.3L951.8 1344.0L944.1 1340.7L936.4 1337.5L928.5 1334.3L920.7 1331.3L912.7 1328.3L904.7 1325.4L896.7 1322.7L888.6 1320.0L880.4 1317.4L872.2 1314.9L863.9 1312.6L855.6 1310.3L847.3 1308.2L838.9 1306.1L830.4 1304.1L821.9 1302.3L813.5 1300.6L805.2 1298.9L796.9 1297.4L788.5 1295.9L780.1 1294.6L771.7 1293.4L763.1 1292.3L754.4 1291.3L745.7 1290.4L736.9 1289.6L728.2 1288.9L719.4 1288.3L710.6 1287.8L701.8 1287.4L693.0 1287.1L684.2 1287.0L675.4 1286.9L666.4 1287.0L657.4 1287.1L648.5 1287.4L639.5 1287.8L630.5 1288.3L621.7 1288.9L612.9 1289.6L604.2 1290.4L595.5 1291.3L586.7 1292.3L578.1 1293.4L569.4 1294.6L560.8 1295.9L552.1 1297.4L543.6 1298.9L535.0 1300.6L526.5 1302.3L518.0 1304.1L509.6 1306.1L501.2 1308.2L492.8 1310.3L484.5 1312.6L476.3 1314.9L468.1 1317.4L459.9 1320.0L451.8 1322.7L443.7 1325.4L435.7 1328.3L427.8 1331.3L419.9 1334.3L412.1 1337.5L404.3 1340.7L396.7 1344.0L389.0 1347.3L381.5 1350.7L374.0 1354.1L366.6 1357.7L359.3 1361.4L352.1 1365.1L344.9 1369.0L337.8 1372.9L330.8 1377.0L323.9 1381.1L317.1 1385.3L310.3 1389.6L303.7 1394.0L297.1 1398.5L290.6 1403.1L284.3 1407.8L278.0 1412.6L271.8 1417.5L265.7 1422.4L259.8 1427.5L253.9 1432.7L248.1 1437.9L242.4 1443.2L236.9 1448.5L231.4 1453.7L226.1 1459.1L220.9 1464.4L215.7 1469.9L210.7 1475.4L205.8 1480.9L201.1 1486.6L196.4 1492.2L191.9 1498.0L187.4 1503.7L183.1 1509.6L179.0 1515.5L174.9 1521.5L171.0 1527.5L167.1 1533.5L163.5 1539.6L159.9 1545.7L156.5 1551.9L153.2 1558.1L150.0 1564.4L146.9 1570.7L144.0 1577.0L141.2 1583.4L138.6 1589.8L136.0 1596.2L133.7 1602.7L131.4 1609.2L129.3 1615.7L127.3 1622.3L125.4 1628.8L123.7 1635.5L122.1 1642.1L120.7 1648.7L119.4 1655.4L118.2 1662.1L117.2 1668.8L116.3 1675.6L115.5 1682.5L114.9 1689.3L114.4 1696.1L114.1 1702.9L113.9 1709.8L113.8 1716.6L113.9 1722.9L114.1 1729.2L114.4 1735.5L114.9 1741.8L115.5 1748.6L116.3 1755.5L117.2 1762.3L118.2 1769.0L119.4 1775.5L120.7 1781.9L122.1 1788.3L123.7 1794.7L125.4 1800.6L127.3 1806.6L129.3 1812.5L131.4 1818.4L133.7 1824.8L136.0 1831.3L138.6 1837.8L141.2 1844.2L144.0 1850.6L146.9 1857.0L150.0 1863.3L153.2 1869.6L156.5 1875.8L159.9 1882.0L163.5 1888.2L167.1 1894.3L171.0 1900.4L174.9 1906.4L179.0 1912.4L183.1 1918.3L187.4 1924.2L191.9 1930.0L196.4 1935.8L201.1 1941.5L205.8 1947.2L210.7 1952.8L215.7 1958.3L220.9 1963.8L226.1 1969.2L231.4 1974.6L236.9 1979.9L242.4 1985.1L248.1 1990.2L253.9 1995.3L259.8 2000.3L265.7 2005.3L271.8 2010.2L278.0 2015.0L284.3 2019.7L290.6 2024.3L297.1 2028.9L303.7 2033.4L310.3 2037.8L317.1 2042.2L323.9 2046.4L330.8 2050.6L337.8 2054.7L344.9 2058.7L352.1 2062.6L359.3 2066.4L366.6 2070.2L374.0 2073.8L381.5 2077.4L389.0 2080.9L396.7 2084.3L404.3 2087.5L412.1 2090.7L419.9 2093.9L427.8 2096.9L435.7 2099.8L443.7 2102.6L451.8 2105.3L459.9 2108.0L468.1 2110.5L476.3 2112.9L484.5 2115.2L492.8 2117.5L501.2 2119.6L509.6 2121.6L518.0 2123.6L526.5 2125.4L535.0 2127.1L543.6 2128.8L552.1 2130.3L560.8 2131.7L569.4 2133.0L578.1 2134.2L586.7 2135.3L595.5 2136.3L604.2 2137.2L612.9 2138.0L621.7 2138.7L630.5 2139.3L639.5 2139.8L648.5 2140.1L657.4 2140.4L666.4 2140.6L675.4 2140.6L684.2 2140.6L693.0 2140.4L701.8 2140.1L710.6 2139.8L719.4 2139.3L728.2 2138.7L736.9 2138.0L745.7 2137.2L754.4 2136.3L763.1 2135.3L771.7 2134.2L780.1 2133.0L788.5 2131.7L796.9 2130.3L805.2 2128.8L813.5 2127.1L821.9 2125.4L830.4 2123.6L838.9 2121.6L847.3 2119.6L855.6 2117.5L863.9 2115.2L872.2 2112.9L880.4 2110.5L888.6 2108.0L896.7 2105.3L904.7 2102.6L912.7 2099.8L920.7 2096.9L928.5 2093.9L936.4 2090.7L944.1 2087.5L951.8 2084.3L959.4 2080.9L966.9 2077.4L974.4 2073.8L981.8 2070.2L989.1 2066.4L996.4 2062.6L1003.6 2058.7L1010.6 2054.7L1017.6 2050.6L1024.6 2046.4L1031.4 2042.2L1038.1 2037.8L1044.8 2033.4L1051.3 2028.9L1057.8 2024.3L1064.2 2019.7L1070.5 2015.0L1076.6 2010.2L1082.7 2005.3L1088.7 2000.3L1094.6 1995.3L1100.3 1990.2L1106.0 1985.1L1111.6 1979.9L1117.0 1974.6L1122.4 1969.2L1127.6 1963.8L1132.7 1958.3L1137.7 1952.8L1142.6 1947.2L1147.4 1941.5L1152.0 1935.8L1156.6 1930.0L1161.0 1924.2L1165.3 1918.3L1169.5 1912.4L1173.6 1906.4L1177.5 1900.4L1181.3 1894.3L1185.0 1888.2L1188.6 1882.0L1192.0 1875.8L1195.3 1869.6L1198.5 1863.3L1201.5 1857.0L1204.4 1850.6L1207.2 1844.2L1209.9 1837.8L1212.4 1831.3L1214.8 1824.8L1217.1 1818.4L1219.2 1812.5L1221.2 1806.6L1223.0 1800.6L1224.7 1794.7L1226.3 1788.3L1227.8 1781.9L1229.1 1775.5L1230.2 1769.0L1231.3 1762.3L1232.2 1755.5L1232.9 1748.6L1233.6 1741.8L1234.0 1735.5L1234.4 1729.2L1234.6 1722.9L1234.7 1716.6Z" fill="none" stroke="#fff" stroke-width="7.2"/>
<path d="M386.6 1532.2h18.6v19.6h-18.6zM393.5 1532.2h18.6v19.6h-18.6zM397.3 1544.9h18.6v19.6h-18.6zM404.2 1533.6h18.6v19.6h-18.6zM413.5 1542.9h18.6v19.6h-18.6zM430.2 1535.3h18.6v19.6h-18.6zM418.9 1535.3h18.6v19.6h-18.6zM433.1 1540.2h18.6v19.6h-18.6zM428.5 1555.8h18.6v19.6h-18.6zM443.3 1550.9h18.6v19.6h-18.6zM446.5 1562.2h18.6v19.6h-18.6zM459.6 1562.2h18.6v19.6h-18.6zM465.8 1551.6h18.6v19.6h-18.6zM437.6 1548.9h18.6v19.6h-18.6zM453.6 1558.2h18.6v19.6h-18.6zM406.7 1539.2h18.6v19.6h-18.6zM422.7 1543.2h18.6v19.6h-18.6zM488.0 1569.1h18.6v19.6h-18.6zM510.5 1619.0h18.6v19.6h-18.6zM474.6 1800.8h18.6v18.0h-18.6zM331.5 2032.2h18.6v19.6h-18.6zM462.9 2014.9h18.6v19.6h-18.6zM440.3 2037.3h18.6v19.6h-18.6zM438.9 2041.6h18.6v19.6h-18.6zM480.3 2034.2h18.6v19.6h-18.6zM473.2 2037.3h18.6v19.6h-18.6zM413.3 2058.3h18.6v19.6h-18.6zM421.2 2059.6h18.6v19.6h-18.6zM462.9 2064.7h18.6v19.6h-18.6zM477.6 2072.7h18.6v19.6h-18.6zM460.9 2082.3h18.6v19.6h-18.6zM458.3 2086.9h18.6v19.6h-18.6zM413.3 2092.0h18.6v19.6h-18.6zM361.3 2236.7h18.6v19.6h-18.6zM906.0 1546.6h18.6v19.6h-18.6zM929.9 1564.2h18.6v19.6h-18.6zM876.2 1615.9h18.6v19.6h-18.6zM898.6 1611.2h18.6v19.6h-18.6zM904.4 1611.2h18.6v19.6h-18.6zM903.2 1617.3h18.6v19.6h-18.6zM919.6 1640.0h18.6v19.6h-18.6zM877.8 1659.4h18.6v19.6h-18.6zM883.6 1665.6h18.6v19.6h-18.6zM901.6 1669.0h18.6v19.6h-18.6zM843.5 1673.6h18.6v19.6h-18.6zM874.9 1676.3h18.6v19.6h-18.6zM860.2 1680.3h18.6v19.6h-18.6zM908.9 1681.6h18.6v19.6h-18.6zM918.3 1686.3h18.6v19.6h-18.6zM858.5 1683.6h18.6v19.6h-18.6zM868.9 1699.6h18.6v19.6h-18.6zM881.6 1684.9h18.6v19.6h-18.6zM881.6 1688.9h18.6v19.6h-18.6zM895.6 1694.2h18.6v19.6h-18.6zM904.9 1704.2h18.6v19.6h-18.6zM894.9 1678.2h18.6v19.6h-18.6zM868.7 1688.2h18.6v19.6h-18.6zM846.6 1701.2h18.6v19.6h-18.6zM843.5 1711.6h18.6v19.6h-18.6zM846.6 1716.9h18.6v19.6h-18.6zM887.6 1716.9h18.6v19.6h-18.6zM881.6 1720.2h18.6v19.6h-18.6zM879.6 1726.3h18.6v19.6h-18.6zM865.6 1727.6h18.6v19.6h-18.6zM853.9 1716.9h18.6v19.6h-18.6zM868.9 1720.5h18.6v19.6h-18.6zM880.2 1716.7h18.6v19.6h-18.6zM885.7 1679.2h18.6v19.6h-18.6zM837.5 1735.3h18.6v19.6h-18.6zM850.9 1736.7h18.6v19.6h-18.6zM850.9 1744.9h18.6v19.6h-18.6zM836.2 1750.3h18.6v19.6h-18.6zM844.2 1744.9h18.6v19.6h-18.6zM856.9 1760.7h18.6v19.6h-18.6zM837.5 1763.6h18.6v19.6h-18.6zM831.8 1769.6h18.6v19.6h-18.6zM841.5 1754.3h18.6v19.6h-18.6zM850.9 1751.6h18.6v19.6h-18.6zM900.2 1747.9h18.6v19.6h-18.6zM862.9 1779.9h18.6v19.6h-18.6zM814.2 1794.8h18.6v18.6h-18.6zM807.8 1800.9h18.6v18.6h-18.6zM816.4 1799.3h18.6v18.6h-18.6zM817.0 1823.4h18.6v19.6h-18.6zM1067.5 1876.3h18.6v19.6h-18.6z" fill="#fff"/>
<path d="M56.8 1716.6H1292.6M675.8 1238.6V2295.2" stroke="#100a07" stroke-width="1.5" fill="none"/>
<path d="M1234.7 1716.6L1234.6 1709.8L1234.4 1702.9L1234.0 1696.1L1233.6 1689.3L1232.9 1682.5L1232.2 1675.6L1231.3 1668.8L1230.2 1662.1L1229.1 1655.4L1227.8 1648.7L1226.3 1642.1L1224.7 1635.5L1223.0 1628.8L1221.2 1622.3L1219.2 1615.7L1217.1 1609.2L1214.8 1602.7L1212.4 1596.2L1209.9 1589.8L1207.2 1583.4L1204.4 1577.0L1201.5 1570.7L1198.5 1564.4L1195.3 1558.1L1192.0 1551.9L1188.6 1545.7L1185.0 1539.6L1181.3 1533.5L1177.5 1527.5L1173.6 1521.5L1169.5 1515.5L1165.3 1509.6L1161.0 1503.7L1156.6 1498.0L1152.0 1492.2L1147.4 1486.6L1142.6 1480.9L1137.7 1475.4L1132.7 1469.9L1127.6 1464.4L1122.4 1459.1L1117.0 1453.7L1111.6 1448.5L1106.0 1443.2L1100.3 1437.9L1094.6 1432.7L1088.7 1427.5L1082.7 1422.4L1076.6 1417.5L1070.5 1412.6L1064.2 1407.8L1057.8 1403.1L1051.3 1398.5L1044.8 1394.0L1038.1 1389.6L1031.4 1385.3L1024.6 1381.1L1017.6 1377.0L1010.6 1372.9L1003.6 1369.0L996.4 1365.1L989.1 1361.4L981.8 1357.7L974.4 1354.1L966.9 1350.7L959.4 1347.3L951.8 1344.0L944.1 1340.7L936.4 1337.5L928.5 1334.3L920.7 1331.3L912.7 1328.3L904.7 1325.4L896.7 1322.7L888.6 1320.0L880.4 1317.4L872.2 1314.9L863.9 1312.6L855.6 1310.3L847.3 1308.2L838.9 1306.1L830.4 1304.1L821.9 1302.3L813.5 1300.6L805.2 1298.9L796.9 1297.4L788.5 1295.9L780.1 1294.6L771.7 1293.4L763.1 1292.3L754.4 1291.3L745.7 1290.4L736.9 1289.6L728.2 1288.9L719.4 1288.3L710.6 1287.8L701.8 1287.4L693.0 1287.1L684.2 1287.0L675.4 1286.9L666.4 1287.0L657.4 1287.1L648.5 1287.4L639.5 1287.8L630.5 1288.3L621.7 1288.9L612.9 1289.6L604.2 1290.4L595.5 1291.3L586.7 1292.3L578.1 1293.4L569.4 1294.6L560.8 1295.9L552.1 1297.4L543.6 1298.9L535.0 1300.6L526.5 1302.3L518.0 1304.1L509.6 1306.1L501.2 1308.2L492.8 1310.3L484.5 1312.6L476.3 1314.9L468.1 1317.4L459.9 1320.0L451.8 1322.7L443.7 1325.4L435.7 1328.3L427.8 1331.3L419.9 1334.3L412.1 1337.5L404.3 1340.7L396.7 1344.0L389.0 1347.3L381.5 1350.7L374.0 1354.1L366.6 1357.7L359.3 1361.4L352.1 1365.1L344.9 1369.0L337.8 1372.9L330.8 1377.0L323.9 1381.1L317.1 1385.3L310.3 1389.6L303.7 1394.0L297.1 1398.5L290.6 1403.1L284.3 1407.8L278.0 1412.6L271.8 1417.5L265.7 1422.4L259.8 1427.5L253.9 1432.7L248.1 1437.9L242.4 1443.2L236.9 1448.5L231.4 1453.7L226.1 1459.1L220.9 1464.4L215.7 1469.9L210.7 1475.4L205.8 1480.9L201.1 1486.6L196.4 1492.2L191.9 1498.0L187.4 1503.7L183.1 1509.6L179.0 1515.5L174.9 1521.5L171.0 1527.5L167.1 1533.5L163.5 1539.6L159.9 1545.7L156.5 1551.9L153.2 1558.1L150.0 1564.4L146.9 1570.7L144.0 1577.0L141.2 1583.4L138.6 1589.8L136.0 1596.2L133.7 1602.7L131.4 1609.2L129.3 1615.7L127.3 1622.3L125.4 1628.8L123.7 1635.5L122.1 1642.1L120.7 1648.7L119.4 1655.4L118.2 1662.1L117.2 1668.8L116.3 1675.6L115.5 1682.5L114.9 1689.3L114.4 1696.1L114.1 1702.9L113.9 1709.8L113.8 1716.6L113.9 1722.9L114.1 1729.2L114.4 1735.5L114.9 1741.8L115.5 1748.6L116.3 1755.5L117.2 1762.3L118.2 1769.0L119.4 1775.5L120.7 1781.9L122.1 1788.3L123.7 1794.7L125.4 1800.6L127.3 1806.6L129.3 1812.5L131.4 1818.4L133.7 1824.8L136.0 1831.3L138.6 1837.8L141.2 1844.2L144.0 1850.6L146.9 1857.0L150.0 1863.3L153.2 1869.6L156.5 1875.8L159.9 1882.0L163.5 1888.2L167.1 1894.3L171.0 1900.4L174.9 1906.4L179.0 1912.4L183.1 1918.3L187.4 1924.2L191.9 1930.0L196.4 1935.8L201.1 1941.5L205.8 1947.2L210.7 1952.8L215.7 1958.3L220.9 1963.8L226.1 1969.2L231.4 1974.6L236.9 1979.9L242.4 1985.1L248.1 1990.2L253.9 1995.3L259.8 2000.3L265.7 2005.3L271.8 2010.2L278.0 2015.0L284.3 2019.7L290.6 2024.3L297.1 2028.9L303.7 2033.4L310.3 2037.8L317.1 2042.2L323.9 2046.4L330.8 2050.6L337.8 2054.7L344.9 2058.7L352.1 2062.6L359.3 2066.4L366.6 2070.2L374.0 2073.8L381.5 2077.4L389.0 2080.9L396.7 2084.3L404.3 2087.5L412.1 2090.7L419.9 2093.9L427.8 2096.9L435.7 2099.8L443.7 2102.6L451.8 2105.3L459.9 2108.0L468.1 2110.5L476.3 2112.9L484.5 2115.2L492.8 2117.5L501.2 2119.6L509.6 2121.6L518.0 2123.6L526.5 2125.4L535.0 2127.1L543.6 2128.8L552.1 2130.3L560.8 2131.7L569.4 2133.0L578.1 2134.2L586.7 2135.3L595.5 2136.3L604.2 2137.2L612.9 2138.0L621.7 2138.7L630.5 2139.3L639.5 2139.8L648.5 2140.1L657.4 2140.4L666.4 2140.6L675.4 2140.6L684.2 2140.6L693.0 2140.4L701.8 2140.1L710.6 2139.8L719.4 2139.3L728.2 2138.7L736.9 2138.0L745.7 2137.2L754.4 2136.3L763.1 2135.3L771.7 2134.2L780.1 2133.0L788.5 2131.7L796.9 2130.3L805.2 2128.8L813.5 2127.1L821.9 2125.4L830.4 2123.6L838.9 2121.6L847.3 2119.6L855.6 2117.5L863.9 2115.2L872.2 2112.9L880.4 2110.5L888.6 2108.0L896.7 2105.3L904.7 2102.6L912.7 2099.8L920.7 2096.9L928.5 2093.9L936.4 2090.7L944.1 2087.5L951.8 2084.3L959.4 2080.9L966.9 2077.4L974.4 2073.8L981.8 2070.2L989.1 2066.4L996.4 2062.6L1003.6 2058.7L1010.6 2054.7L1017.6 2050.6L1024.6 2046.4L1031.4 2042.2L1038.1 2037.8L1044.8 2033.4L1051.3 2028.9L1057.8 2024.3L1064.2 2019.7L1070.5 2015.0L1076.6 2010.2L1082.7 2005.3L1088.7 2000.3L1094.6 1995.3L1100.3 1990.2L1106.0 1985.1L1111.6 1979.9L1117.0 1974.6L1122.4 1969.2L1127.6 1963.8L1132.7 1958.3L1137.7 1952.8L1142.6 1947.2L1147.4 1941.5L1152.0 1935.8L1156.6 1930.0L1161.0 1924.2L1165.3 1918.3L1169.5 1912.4L1173.6 1906.4L1177.5 1900.4L1181.3 1894.3L1185.0 1888.2L1188.6 1882.0L1192.0 1875.8L1195.3 1869.6L1198.5 1863.3L1201.5 1857.0L1204.4 1850.6L1207.2 1844.2L1209.9 1837.8L1212.4 1831.3L1214.8 1824.8L1217.1 1818.4L1219.2 1812.5L1221.2 1806.6L1223.0 1800.6L1224.7 1794.7L1226.3 1788.3L1227.8 1781.9L1229.1 1775.5L1230.2 1769.0L1231.3 1762.3L1232.2 1755.5L1232.9 1748.6L1233.6 1741.8L1234.0 1735.5L1234.4 1729.2L1234.6 1722.9L1234.7 1716.6Z" fill="none" stroke="#000" stroke-width="3" stroke-linejoin="round"/>
<path d="M388.4 1534.0h15v16h-15zM395.3 1534.0h15v16h-15zM399.1 1546.7h15v16h-15zM406.0 1535.4h15v16h-15zM415.3 1544.7h15v16h-15zM432.0 1537.1h15v16h-15zM420.7 1537.1h15v16h-15zM434.9 1542.0h15v16h-15zM430.3 1557.6h15v16h-15zM445.1 1552.7h15v16h-15zM448.3 1564.0h15v16h-15zM461.4 1564.0h15v16h-15zM467.6 1553.4h15v16h-15zM439.4 1550.7h15v16h-15zM455.4 1560.0h15v16h-15zM408.5 1541.0h15v16h-15zM424.5 1545.0h15v16h-15zM489.8 1570.9h15v16h-15zM512.3 1620.8h15v16h-15zM476.4 1802.6h15v14.4h-15zM333.3 2034.0h15v16h-15zM464.7 2016.7h15v16h-15zM442.1 2039.1h15v16h-15zM440.7 2043.4h15v16h-15zM482.1 2036.0h15v16h-15zM475.0 2039.1h15v16h-15zM415.1 2060.1h15v16h-15zM423.0 2061.4h15v16h-15zM464.7 2066.5h15v16h-15zM479.4 2074.5h15v16h-15zM462.7 2084.1h15v16h-15zM460.1 2088.7h15v16h-15zM415.1 2093.8h15v16h-15zM363.1 2238.5h15v16h-15z" fill="#2b52a6"/>
<path d="M907.8 1548.4h15v16h-15zM931.7 1566.0h15v16h-15zM878.0 1617.7h15v16h-15zM900.4 1613.0h15v16h-15zM906.2 1613.0h15v16h-15zM905.0 1619.1h15v16h-15zM921.4 1641.8h15v16h-15zM879.6 1661.2h15v16h-15zM885.4 1667.4h15v16h-15zM903.4 1670.8h15v16h-15zM845.3 1675.4h15v16h-15zM876.7 1678.1h15v16h-15zM862.0 1682.1h15v16h-15zM910.7 1683.4h15v16h-15zM920.1 1688.1h15v16h-15zM860.3 1685.4h15v16h-15zM870.7 1701.4h15v16h-15zM883.4 1686.7h15v16h-15zM883.4 1690.7h15v16h-15zM897.4 1696.0h15v16h-15zM906.7 1706.0h15v16h-15zM896.7 1680.0h15v16h-15zM870.5 1690.0h15v16h-15zM848.4 1703.0h15v16h-15zM845.3 1713.4h15v16h-15zM848.4 1718.7h15v16h-15zM889.4 1718.7h15v16h-15zM883.4 1722.0h15v16h-15zM881.4 1728.1h15v16h-15zM867.4 1729.4h15v16h-15zM855.7 1718.7h15v16h-15zM870.7 1722.3h15v16h-15zM882.0 1718.5h15v16h-15zM887.5 1681.0h15v16h-15zM839.3 1737.1h15v16h-15zM852.7 1738.5h15v16h-15zM852.7 1746.7h15v16h-15zM838.0 1752.1h15v16h-15zM846.0 1746.7h15v16h-15zM858.7 1762.5h15v16h-15zM839.3 1765.4h15v16h-15zM833.6 1771.4h15v16h-15zM843.3 1756.1h15v16h-15zM852.7 1753.4h15v16h-15zM902.0 1749.7h15v16h-15zM864.7 1781.7h15v16h-15zM816.0 1796.6h15v15h-15zM809.6 1802.7h15v15h-15zM818.2 1801.1h15v15h-15zM818.8 1825.2h15v16h-15zM1069.3 1878.1h15v16h-15z" fill="#d92520"/>
<path d="M55.8 1238.6H1292.6V2296.0" stroke="#100a07" stroke-width="1.7" fill="none"/>
<path d="M56.8 1237.8V2296.1" stroke="#100a07" stroke-width="1.8" fill="none"/>
<path d="M55.8 2295.2H1293.4" stroke="#100a07" stroke-width="1.8" fill="none"/>
<path d="M52.6 2276.8h7.6M52.6 2249.9h7.6M52.6 2222.9h7.6M52.6 2196.0h7.6M52.6 2169.1h7.6M52.6 2142.2h7.6M52.6 2115.3h7.6M52.6 2088.4h7.6M52.6 2061.5h7.6M52.6 2034.6h7.6M52.6 2007.7h7.6M52.6 1980.8h7.6M52.6 1953.8h7.6M52.6 1926.9h7.6M52.6 1900.0h7.6M52.6 1873.1h7.6M52.6 1846.2h7.6M52.6 1819.3h7.6M52.6 1795.0h7.6M52.6 1769.1h7.6M52.6 1741.8h7.6M52.6 1716.6h7.6M52.6 1689.3h7.6M52.6 1662.0h7.6M52.6 1635.1h7.6M52.6 1608.2h7.6M52.6 1581.4h7.6M52.6 1554.6h7.6M52.6 1527.8h7.6M52.6 1501.0h7.6M52.6 1474.3h7.6M52.6 1447.6h7.6M52.6 1420.0h7.6M52.6 1392.8h7.6M52.6 1366.2h7.6M52.6 1339.9h7.6M52.6 1312.5h7.6M52.6 1285.3h7.6M52.6 1259.4h7.6M60.2 2291.0v8.6M107.5 2291.0v8.6M154.7 2291.0v8.6M202.0 2291.0v8.6M249.2 2291.0v8.6M296.5 2291.0v8.6M343.7 2291.0v8.6M391.0 2291.0v8.6M438.2 2291.0v8.6M485.5 2291.0v8.6M532.7 2291.0v8.6M580.0 2291.0v8.6M627.2 2291.0v8.6M675.4 2291.0v8.6M722.6 2291.0v8.6M769.9 2291.0v8.6M815.8 2291.0v8.6M863.0 2291.0v8.6M910.2 2291.0v8.6M957.5 2291.0v8.6M1004.8 2291.0v8.6M1052.0 2291.0v8.6M1099.2 2291.0v8.6M1146.5 2291.0v8.6M1193.8 2291.0v8.6M1241.0 2291.0v8.6M1288.2 2291.0v8.6" stroke="#100a07" stroke-width="1.7" fill="none"/>
<text x="9.0" y="2256.5" class="t" textLength="39.9" lengthAdjust="spacingAndGlyphs">-1000</text>
<text x="17.7" y="2202.6" class="t" textLength="31.2" lengthAdjust="spacingAndGlyphs">-900</text>
<text x="17.7" y="2148.8" class="t" textLength="31.2" lengthAdjust="spacingAndGlyphs">-800</text>
<text x="17.7" y="2095.0" class="t" textLength="31.2" lengthAdjust="spacingAndGlyphs">-700</text>
<text x="17.7" y="2041.2" class="t" textLength="31.2" lengthAdjust="spacingAndGlyphs">-600</text>
<text x="17.7" y="1987.4" class="t" textLength="31.2" lengthAdjust="spacingAndGlyphs">-500</text>
<text x="17.7" y="1933.5" class="t" textLength="31.2" lengthAdjust="spacingAndGlyphs">-400</text>
<text x="17.7" y="1879.7" class="t" textLength="31.2" lengthAdjust="spacingAndGlyphs">-300</text>
<text x="17.7" y="1825.9" class="t" textLength="31.2" lengthAdjust="spacingAndGlyphs">-200</text>
<text x="17.7" y="1775.7" class="t" textLength="31.2" lengthAdjust="spacingAndGlyphs">-100</text>
<text x="40.2" y="1723.2" class="t" textLength="8.7" lengthAdjust="spacingAndGlyphs">0</text>
<text x="22.9" y="1668.6" class="t" textLength="26.0" lengthAdjust="spacingAndGlyphs">100</text>
<text x="22.9" y="1614.8" class="t" textLength="26.0" lengthAdjust="spacingAndGlyphs">200</text>
<text x="22.9" y="1561.2" class="t" textLength="26.0" lengthAdjust="spacingAndGlyphs">300</text>
<text x="22.9" y="1507.6" class="t" textLength="26.0" lengthAdjust="spacingAndGlyphs">400</text>
<text x="22.9" y="1454.2" class="t" textLength="26.0" lengthAdjust="spacingAndGlyphs">500</text>
<text x="22.9" y="1399.4" class="t" textLength="26.0" lengthAdjust="spacingAndGlyphs">600</text>
<text x="22.9" y="1346.5" class="t" textLength="26.0" lengthAdjust="spacingAndGlyphs">700</text>
<text x="22.9" y="1291.9" class="t" textLength="26.0" lengthAdjust="spacingAndGlyphs">800</text>
<text x="87.1" y="2325.2" class="t" textLength="39.9" lengthAdjust="spacingAndGlyphs">-1200</text>
<text x="181.6" y="2325.2" class="t" textLength="39.9" lengthAdjust="spacingAndGlyphs">-1000</text>
<text x="280.4" y="2325.2" class="t" textLength="31.2" lengthAdjust="spacingAndGlyphs">-800</text>
<text x="374.9" y="2325.2" class="t" textLength="31.2" lengthAdjust="spacingAndGlyphs">-600</text>
<text x="469.4" y="2325.2" class="t" textLength="31.2" lengthAdjust="spacingAndGlyphs">-400</text>
<text x="563.9" y="2325.2" class="t" textLength="31.2" lengthAdjust="spacingAndGlyphs">-200</text>
<text x="671.1" y="2325.2" class="t" textLength="8.7" lengthAdjust="spacingAndGlyphs">0</text>
<text x="756.9" y="2325.2" class="t" textLength="26.0" lengthAdjust="spacingAndGlyphs">200</text>
<text x="850.0" y="2325.2" class="t" textLength="26.0" lengthAdjust="spacingAndGlyphs">400</text>
<text x="944.5" y="2325.2" class="t" textLength="26.0" lengthAdjust="spacingAndGlyphs">600</text>
<text x="1039.0" y="2325.2" class="t" textLength="26.0" lengthAdjust="spacingAndGlyphs">800</text>
<text x="1129.1" y="2325.2" class="t" textLength="34.7" lengthAdjust="spacingAndGlyphs">1000</text>
<text x="1223.6" y="2325.2" class="t" textLength="34.7" lengthAdjust="spacingAndGlyphs">1200</text>
<text x="353.0" y="41" class="ti" style="font-size:27px" textLength="75.6" lengthAdjust="spacingAndGlyphs">Scores</text>
<text x="435.0" y="41" class="ti" style="font-size:27px" textLength="98.0" lengthAdjust="spacingAndGlyphs">Comp[1]</text>
<text x="540.0" y="41" class="ti" style="font-size:27px" textLength="32.0" lengthAdjust="spacingAndGlyphs">vs.</text>
<text x="579.0" y="41" class="ti" style="font-size:27px" textLength="98.0" lengthAdjust="spacingAndGlyphs">Comp[2]</text>
<text x="684.0" y="41" class="ti" style="font-size:27px" textLength="85.0" lengthAdjust="spacingAndGlyphs">colored</text>
<text x="777.0" y="41" class="ti" style="font-size:27px" textLength="25.0" lengthAdjust="spacingAndGlyphs">by</text>
<text x="808.6" y="41" class="ti" style="font-size:27px" textLength="109.4" lengthAdjust="spacingAndGlyphs">Condition</text>
<text x="486.3" y="1221.3" class="ti" style="font-size:26px" textLength="76.4" lengthAdjust="spacingAndGlyphs">Scores</text>
<text x="569.4" y="1221.3" class="ti" style="font-size:26px" textLength="84.6" lengthAdjust="spacingAndGlyphs">colored</text>
<text x="662.3" y="1221.3" class="ti" style="font-size:26px" textLength="24.8" lengthAdjust="spacingAndGlyphs">by</text>
<text x="694.7" y="1221.3" class="ti" style="font-size:26px" textLength="111.3" lengthAdjust="spacingAndGlyphs">Condition</text>
<text x="44.6" y="45.5" class="pl" textLength="68" lengthAdjust="spacingAndGlyphs">(a)</text>
<text x="56.2" y="1227.5" class="pl" textLength="72.5" lengthAdjust="spacingAndGlyphs">(b)</text>
<rect x="1319.9" y="578.6" width="15.3" height="16.2" fill="#2b52a6"/>
<rect x="1319.9" y="607.8" width="15.3" height="16.2" fill="#d92520"/>
<text x="1399.3" y="597.4" class="lg" textLength="68.2" lengthAdjust="spacingAndGlyphs">Control</text>
<text x="1398.8999999999999" y="626" class="lg" style="font-size:24px" textLength="78.4" lengthAdjust="spacingAndGlyphs">Pregnant</text>
<rect x="1334.6" y="1751" width="15.3" height="16.2" fill="#2b52a6"/>
<rect x="1334.6" y="1780" width="15.3" height="16.2" fill="#d92520"/>
<text x="1414.6" y="1770.2" class="lg" textLength="68.2" lengthAdjust="spacingAndGlyphs">Control</text>
<text x="1414.1999999999998" y="1798.1" class="lg" style="font-size:24px" textLength="78.4" lengthAdjust="spacingAndGlyphs">Pregnant</text>
<text x="674.6" y="2357.5" text-anchor="middle" class="t">t[1]</text>
<text x="345.2" y="2376.6" class="ft" textLength="43" lengthAdjust="spacingAndGlyphs">EZInfo</text>
<text x="393.2" y="2376.6" class="ft" textLength="59.6" lengthAdjust="spacingAndGlyphs">controlled</text>
<text x="458.1" y="2376.6" class="ft">by</text>
<text x="478.4" y="2376.6" class="ft">Progenesis</text>
<text x="551" y="2376.6" class="ft">QI</text>
<text x="570.2" y="2376.6" class="ft">3.0.3</text>
<text x="607" y="2376.6" class="ft">-</text>
<text x="615" y="2376.6" class="ft">Pregnantcheek-ZMY2020085.usp</text>
<text x="824.6" y="2376.6" class="ft">(M4:</text>
<text x="856.1" y="2376.6" class="ft">OPLS-DA)</text>
<text x="924.3" y="2376.6" class="ft">-</text>
<text x="933.5" y="2376.6" class="ft">2020-08-05</text>
<text x="1007.7" y="2376.6" class="ft">17:25:43</text>
<text x="1065.8" y="2376.6" class="ft" textLength="50.6" lengthAdjust="spacingAndGlyphs">(UTC+8)</text>
</svg>
</body></html>
